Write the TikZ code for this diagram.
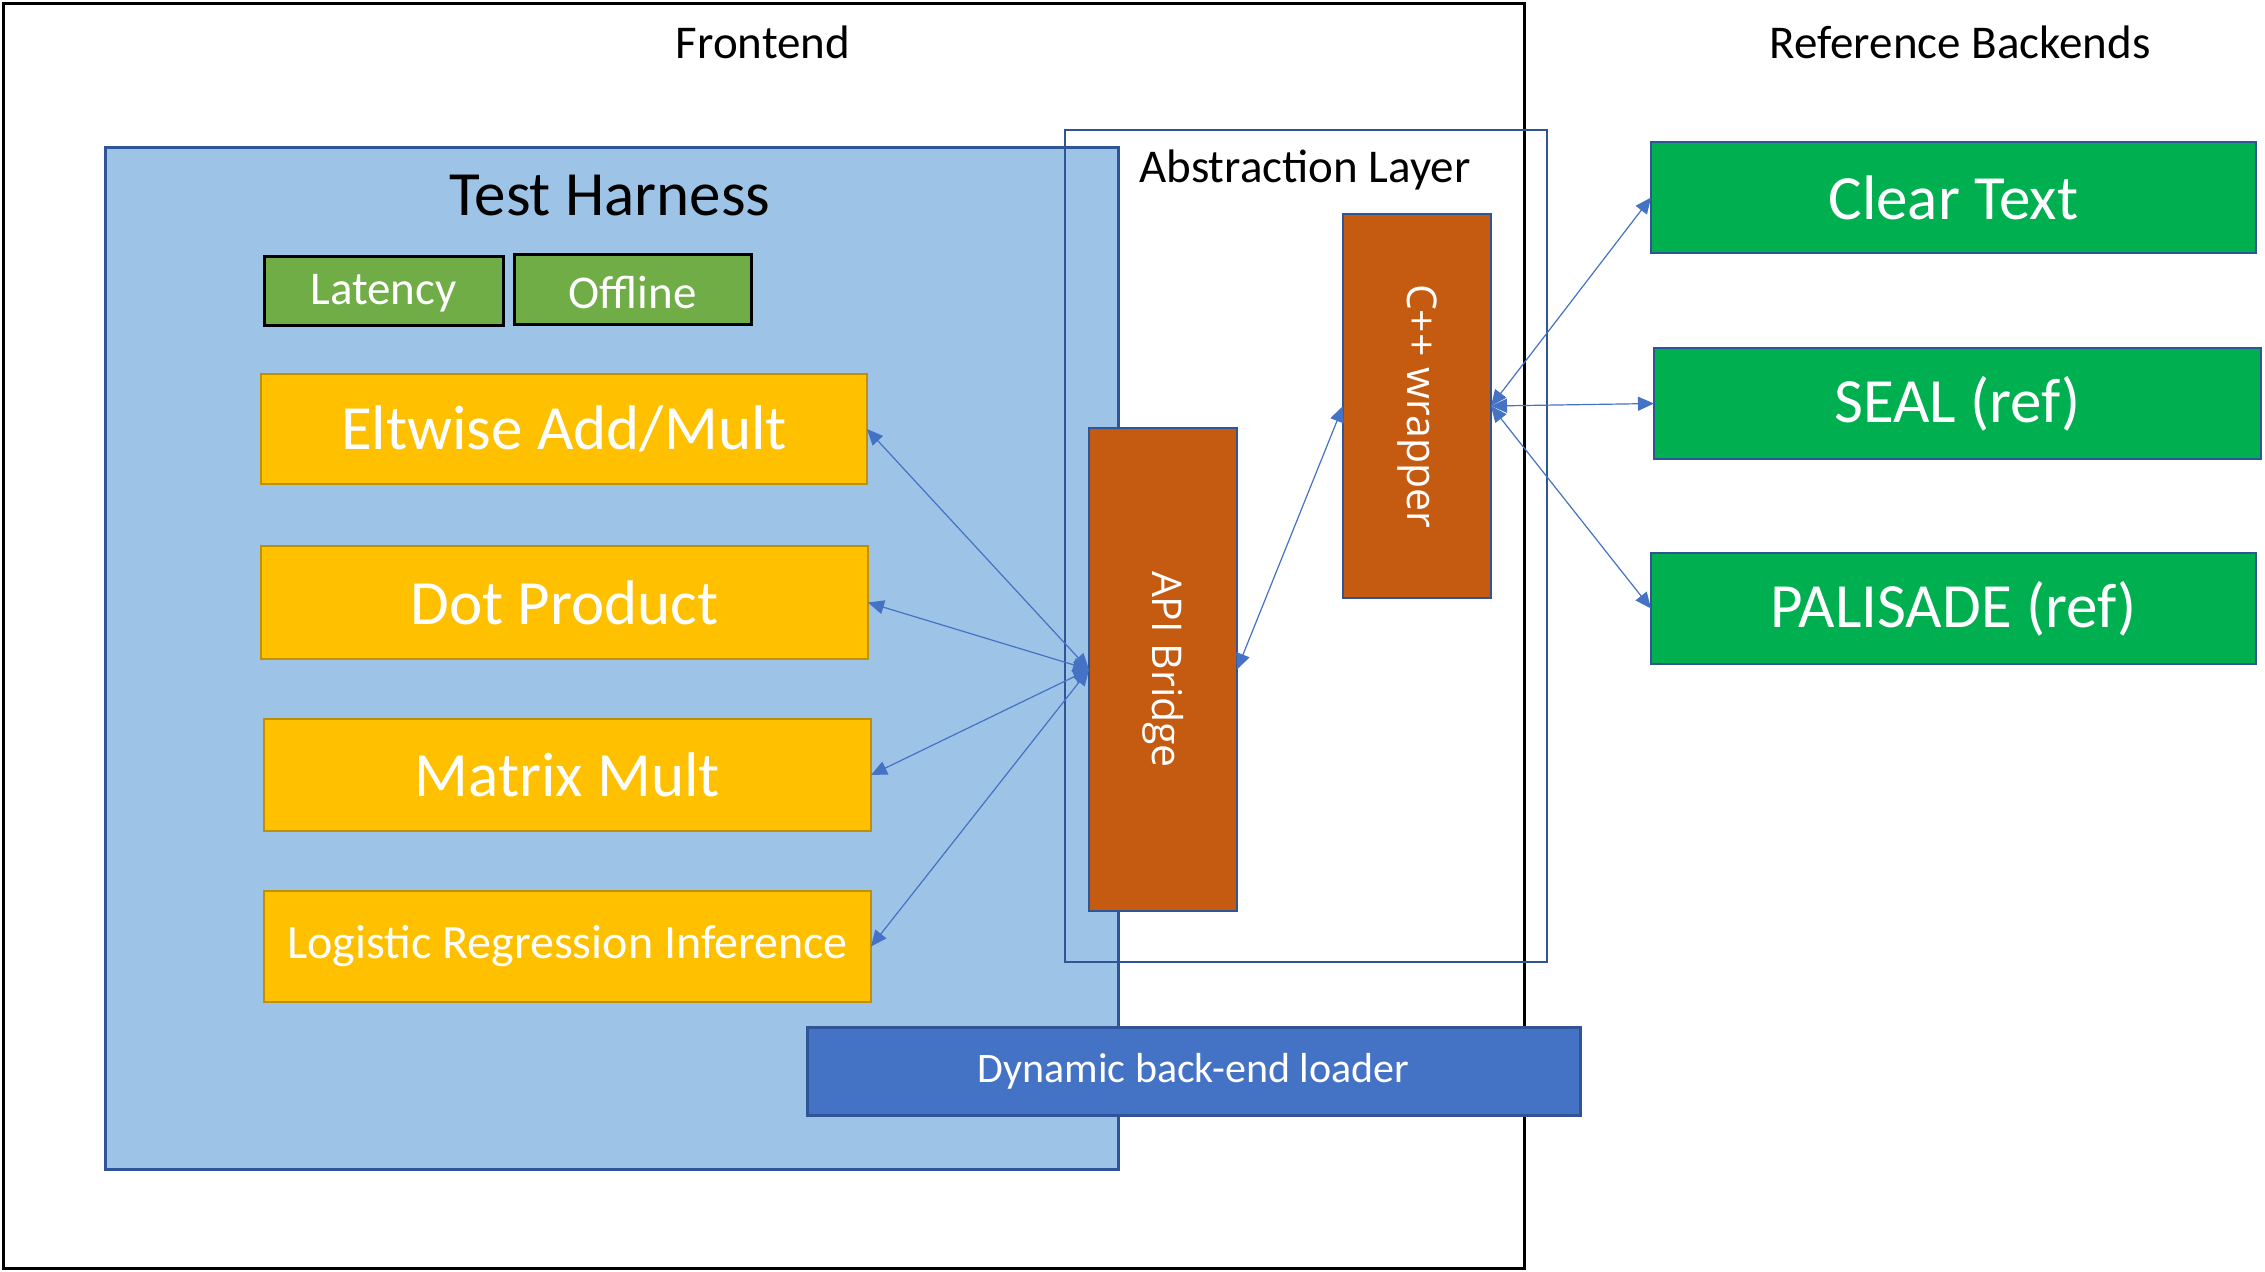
\documentclass[tikz,border=0pt]{standalone}
\usepackage{fontspec}
\setmainfont{Carlito}
\newfontfamily\rotfont{Open Sans}
\usetikzlibrary{fit,arrows.meta}
\definecolor{thfill}{HTML}{9DC3E6}
\definecolor{darkblue}{HTML}{2F5597}
\definecolor{lgreen}{HTML}{70AD47}
\definecolor{yel}{HTML}{FFC000}
\definecolor{yelb}{HTML}{BF9000}
\definecolor{rust}{HTML}{C55A11}
\definecolor{bgreen}{HTML}{00B050}
\definecolor{mblue}{HTML}{4472C4}
\begin{document}
\begin{tikzpicture}[x=0.5pt,y=-0.5pt,
  box/.style={inner sep=0pt, outer sep=0pt},
  inlbl/.style={text=white, inner sep=0pt},
  title/.style={inner sep=0pt, font=\fontsize{23.5}{27}\selectfont},
  modebox/.style={box, draw=black, line width=1.5pt, fill=lgreen},
  modetxt/.style={inlbl, font=\fontsize{23.5}{27}\selectfont, yshift=-1.5pt},
  testbox/.style={box, draw=yelb, line width=1.2pt, fill=yel},
  bigtxt/.style={inlbl, font=\fontsize{31.5}{36}\selectfont},
  layerbox/.style={box, draw=darkblue, line width=1.2pt, fill=rust},
  rottxt/.style={inlbl, font=\rotfont\fontsize{20.5}{24}\selectfont, rotate=-90},
  backbox/.style={box, draw=darkblue, line width=1.2pt, fill=bgreen},
  link/.style={draw=mblue, line width=0.6pt, {Triangle[length=8pt,width=7pt]}-{Triangle[length=8pt,width=7pt]}}]
\useasboundingbox (0,0) rectangle (2265,1271);
\fill[white] (0,0) rectangle (2265,1271);

% Frontend frame
\node[box, draw=black, line width=1.5pt, fit={(3,3) (1524,1268)}] (frontend) {};
\node[title] (frontendlbl) at (763,42) {Frontend};
\node[title] (reflbl) at (1960,42) {Reference Backends};

% Test harness
\node[box, draw=darkblue, line width=1.5pt, fill=thfill, fit={(105,147) (1118,1169)}] (harness) {};
\node[title, font=\fontsize{31.5}{36}\selectfont] (harnesslbl) at (610,196) {Test Harness};

% Abstraction layer
\node[box, draw=darkblue, line width=1.3pt, fit={(1065,130) (1547,962)}] (abstraction) {};
\node[title] (abslbl) at (1305,170) {Abstraction Layer};

% Modes
\node[modebox, fit={(264,256) (503,325)}, label={[modetxt]center:Latency}] (latency) {};
\node[modebox, fit={(514,254) (751,324)}, label={[modetxt]center:Offline}] (offline) {};

% Tests
\node[testbox, fit={(261,374) (867,484)}, label={[bigtxt]center:Eltwise Add/Mult}] (eltwise) {};
\node[testbox, fit={(261,546) (868,659)}, label={[bigtxt]center:Dot Product}] (dot) {};
\node[testbox, fit={(264,719) (871,831)}, label={[bigtxt]center:Matrix Mult}] (matrix) {};
\node[testbox, fit={(264,891) (871,1002)}, label={[inlbl, font=\fontsize{24}{28}\selectfont]center:Logistic Regression Inference}] (logistic) {};

% Layer components
\node[layerbox, fit={(1089,428) (1237,911)}, label={[rottxt]center:API Bridge}] (api) {};
\node[layerbox, fit={(1343,214) (1491,598)}, label={[rottxt]center:C++ wrapper}] (cpp) {};

% Backends
\node[backbox, fit={(1651,142) (2256,253)}, label={[bigtxt]center:Clear Text}] (clear) {};
\node[backbox, fit={(1654,348) (2261,459)}, label={[bigtxt]center:SEAL (ref)}] (seal) {};
\node[backbox, fit={(1651,553) (2256,664)}, label={[bigtxt]center:PALISADE (ref)}] (palisade) {};

% Dynamic loader
\node[box, draw=darkblue, line width=1.5pt, fill=mblue, fit={(807,1027) (1580,1115)}, label={[inlbl, font=\fontsize{21}{25}\selectfont]center:Dynamic back-end loader}] (loader) {};

% Connectors
\draw[link] (eltwise.east) -- (api.west);
\draw[link] (dot.east) -- (api.west);
\draw[link] (matrix.east) -- (api.west);
\draw[link] (logistic.east) -- (api.west);
\draw[link] (api.east) -- (cpp.west);
\draw[link] (cpp.east) -- (clear.west);
\draw[link] (cpp.east) -- (seal.west);
\draw[link] (cpp.east) -- (palisade.west);
\end{tikzpicture}
\end{document}
